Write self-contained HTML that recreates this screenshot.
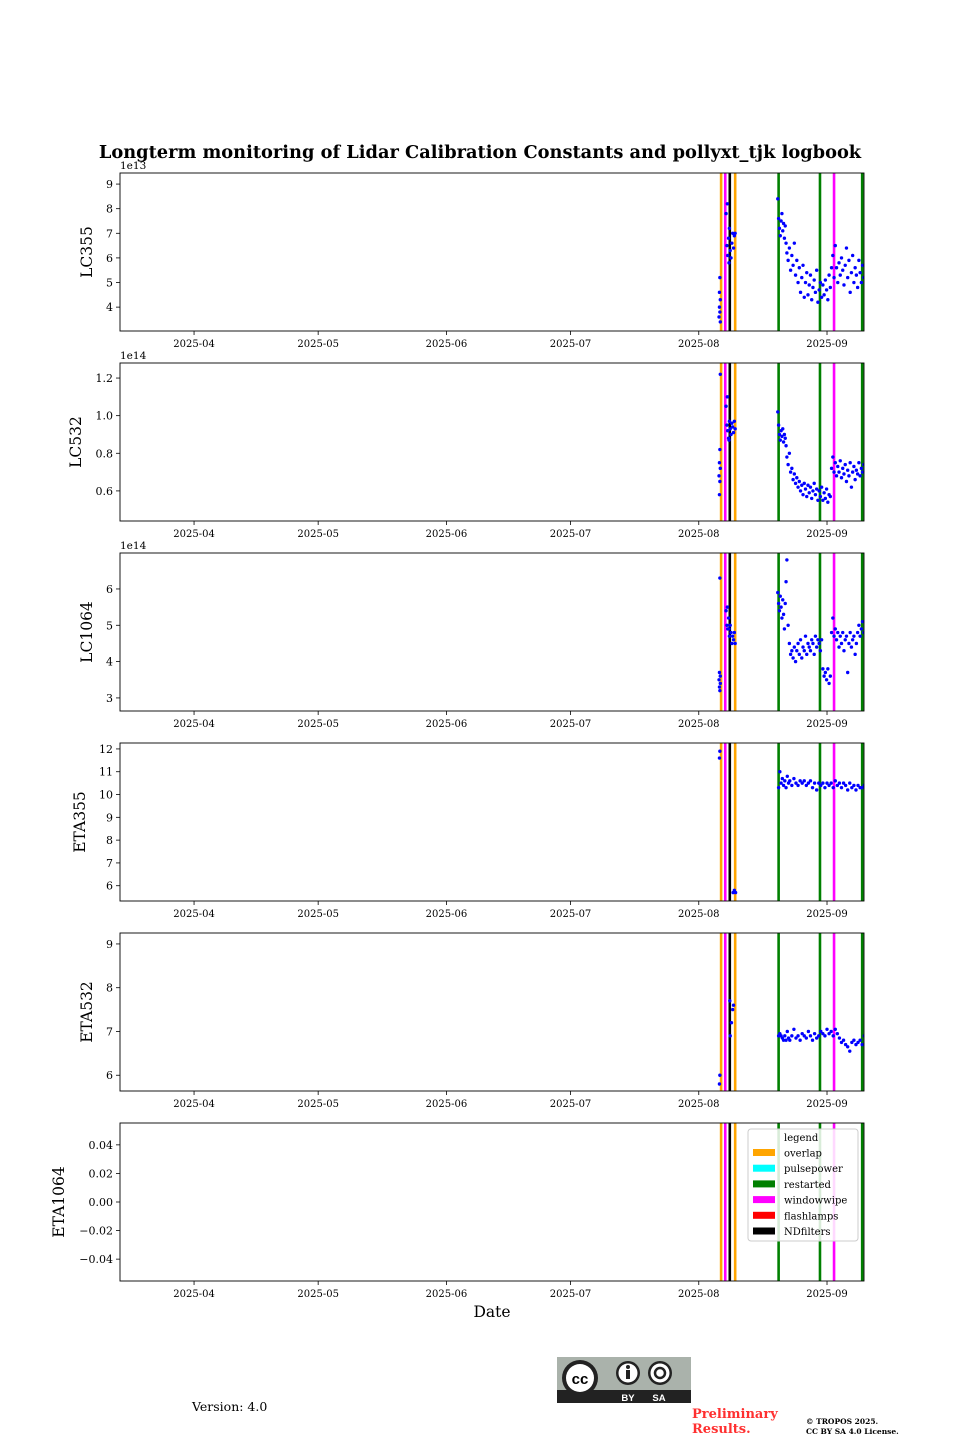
<!DOCTYPE html>
<html><head><meta charset="utf-8"><style>
body{margin:0;background:#fff;}
svg text{font-family:"DejaVu Serif","Liberation Serif",serif;}
</style></head><body>
<svg id="fig" width="960" height="1440" viewBox="0 0 960 1440" xmlns="http://www.w3.org/2000/svg">
<text x="480" y="158" text-anchor="middle" font-size="17.8" font-weight="bold">Longterm monitoring of Lidar Calibration Constants and pollyxt_tjk logbook</text>
<g id="panels"></g>
<text x="492" y="1317" text-anchor="middle" font-size="15.5">Date</text>
<g>
<rect x="557" y="1357" width="134" height="46" fill="#aab2ab"/>
<rect x="557" y="1390" width="134" height="13" fill="#222"/>
<circle cx="580" cy="1378" r="18" fill="#222"/><circle cx="580" cy="1378" r="14" fill="#fff"/>
<text x="580" y="1384" text-anchor="middle" font-size="15" font-weight="bold" style="font-family:'Liberation Sans',sans-serif">cc</text>
<circle cx="628" cy="1373" r="12" fill="#222"/><circle cx="628" cy="1373" r="9.5" fill="#fff"/>
<circle cx="628" cy="1367" r="2" fill="#222"/><rect x="626" y="1370" width="4" height="9" fill="#222"/>
<circle cx="660" cy="1373" r="12" fill="#222"/><circle cx="660" cy="1373" r="9.5" fill="#fff"/>
<circle cx="660" cy="1373" r="5" fill="none" stroke="#222" stroke-width="2.5"/>
<text x="628" y="1401" text-anchor="middle" font-size="9.5" font-weight="bold" fill="#fff" style="font-family:'Liberation Sans',sans-serif">BY</text>
<text x="659" y="1401" text-anchor="middle" font-size="9.5" font-weight="bold" fill="#fff" style="font-family:'Liberation Sans',sans-serif">SA</text>
</g>
<text x="192" y="1411" font-size="12.5">Version: 4.0</text>
<text x="692" y="1418" font-size="13" font-weight="bold" fill="#ff3030">Preliminary</text>
<text x="692" y="1433" font-size="13" font-weight="bold" fill="#ff3030">Results.</text>
<text x="806" y="1424" font-size="7.5" font-weight="bold">© TROPOS 2025.</text>
<text x="806" y="1434" font-size="7.5" font-weight="bold">CC BY SA 4.0 License.</text>
</svg>
<script>
// days relative to 2025-08-01
const monthLabels=["2025-04","2025-05","2025-06","2025-07","2025-08","2025-09"];
const monthDays=[-122,-92,-61,-31,0,31];
const eventNames=["overlap","windowwipe","NDfilters","overlap","restarted","restarted","windowwipe","restarted"];
const eventDays=[5.4,6.4,7.5,8.8,19.3,29.3,32.7,39.5];
const legendNames=["overlap","pulsepower","restarted","windowwipe","flashlamps","NDfilters"];
const legendColors=["orange","cyan","green","magenta","red","black"];

const lcDays=[4.9,5.0,5.0,5.1,5.1,5.2,5.2,
6.6,6.8,7.0,7.2,7.4,7.6,7.8,8.0,8.2,8.4,8.6,8.8,6.9,7.3,
19.1,19.3,19.5,19.7,19.9,20.1,20.3,20.5,20.7,20.9,21.1,21.3,
21.6,21.9,22.2,22.5,22.8,23.1,23.4,23.7,24.0,24.3,24.6,24.9,25.2,25.5,25.8,26.1,26.4,26.7,27.0,27.3,27.6,27.9,28.2,28.5,28.8,29.1,29.4,29.7,30.0,30.3,30.6,30.9,31.2,31.5,31.8,32.1,32.4,32.7,33.0,33.3,33.6,33.9,34.2,34.5,34.8,35.1,35.4,35.7,36.0,36.3,36.6,36.9,37.2,37.5,37.8,38.1,38.4,38.7,39.0,39.3,39.6,39.9];
const lc355=[3.6,4.0,4.6,3.8,5.2,4.3,3.4,
7.8,6.5,6.1,6.8,7.2,6.3,6.0,6.6,7.0,6.4,6.9,7.0,8.2,5.8,
8.4,7.6,7.2,6.9,7.5,7.8,7.1,7.4,6.8,7.3,6.6,6.2,
5.9,6.4,5.5,6.1,5.7,6.6,5.3,5.9,5.0,5.6,4.6,5.2,5.7,4.4,5.0,5.4,4.5,4.9,5.3,4.3,4.8,5.1,4.6,5.5,4.2,4.7,5.0,4.4,4.9,4.5,5.1,4.7,4.3,5.3,4.8,5.6,6.1,5.2,6.5,5.6,5.0,5.8,5.3,6.0,5.5,4.9,5.7,6.4,5.2,5.9,4.6,5.4,6.1,5.0,5.6,5.3,4.8,5.9,5.4,5.0,5.7,5.2];
const lc532=[0.68,0.75,0.58,0.82,0.65,0.72,1.22,
1.05,0.95,0.92,0.88,0.97,0.93,0.90,0.96,0.94,0.91,0.97,0.93,1.10,0.87,
1.02,0.95,0.90,0.87,0.92,0.89,0.93,0.86,0.90,0.88,0.84,0.78,
0.74,0.80,0.70,0.72,0.66,0.69,0.64,0.67,0.62,0.65,0.60,0.63,0.58,0.64,0.61,0.57,0.63,0.59,0.62,0.56,0.60,0.64,0.58,0.61,0.55,0.60,0.57,0.62,0.55,0.59,0.56,0.61,0.54,0.58,0.57,0.72,0.78,0.70,0.75,0.68,0.73,0.70,0.76,0.67,0.72,0.69,0.74,0.65,0.71,0.68,0.75,0.62,0.70,0.73,0.66,0.71,0.69,0.75,0.68,0.72,0.70,0.74];
const lc1064=[3.5,3.3,3.7,3.2,6.3,3.6,3.4,
5.4,5.0,4.9,5.2,4.7,5.0,4.8,4.5,4.7,4.6,4.8,4.5,5.5,4.9,
5.9,5.6,5.4,5.8,5.5,5.2,5.7,5.3,4.9,5.6,6.2,6.8,
5.0,4.5,4.2,4.3,4.1,4.4,4.0,4.3,4.5,4.2,4.6,4.1,4.4,4.3,4.7,4.2,4.5,4.4,4.3,4.6,4.5,4.2,4.7,4.4,4.6,4.5,4.3,4.6,3.8,3.6,3.7,3.5,3.8,3.4,3.6,4.8,5.2,4.7,4.9,4.6,4.8,4.4,4.7,4.5,4.8,4.3,4.6,4.7,3.7,4.5,4.8,4.4,4.6,4.7,4.2,4.5,4.8,5.0,4.7,4.9,5.1,4.8];

const eta355Days=[5.0,5.1,8.3,8.6,8.9,19.3,19.6,19.9,20.2,20.5,20.8,21.1,21.4,21.7,22.0,22.5,23.0,23.5,24.0,24.5,25.0,25.5,26.0,26.5,27.0,27.5,28.0,28.5,29.0,29.5,30.0,30.5,31.0,31.5,32.0,32.5,33.0,33.5,34.0,34.5,35.0,35.5,36.0,36.5,37.0,37.5,38.0,38.5,39.0,39.5,40.0];
const eta355=[11.6,11.9,5.7,5.8,5.7,10.3,11.0,10.5,10.7,10.4,10.6,10.3,10.8,10.5,10.6,10.4,10.7,10.5,10.4,10.6,10.5,10.6,10.4,10.5,10.6,10.3,10.5,10.2,10.5,10.4,10.5,10.3,10.5,10.4,10.5,10.3,10.6,10.4,10.5,10.3,10.5,10.4,10.2,10.5,10.3,10.4,10.2,10.4,10.3,10.3,10.4];
const eta532Days=[5.0,5.1,7.5,7.6,7.9,8.2,8.4,19.3,19.6,19.9,20.2,20.5,20.8,21.1,21.4,21.7,22.0,22.5,23.0,23.5,24.0,24.5,25.0,25.5,26.0,26.5,27.0,27.5,28.0,28.5,29.0,29.5,30.0,30.5,31.0,31.5,32.0,32.5,33.0,33.5,34.0,34.5,35.0,35.5,36.0,36.5,37.0,37.5,38.0,38.5,39.0,39.5,40.0];
const eta532=[5.8,6.0,7.7,6.9,7.2,7.5,7.6,6.9,6.95,6.9,6.85,6.8,6.9,6.8,7.0,6.85,6.8,6.9,7.05,6.85,6.9,6.8,6.95,6.9,6.85,7.0,6.9,6.8,6.95,6.85,6.9,7.0,6.95,6.9,7.05,6.95,7.0,6.9,7.05,6.95,6.85,6.75,6.8,6.7,6.65,6.55,6.75,6.8,6.7,6.75,6.8,6.7,6.9];

const panelNames=["LC355","LC532","LC1064","ETA355","ETA532","ETA1064"];
const panelTops=[173,363,553,743,933,1123];
const yMins=[3.03,0.44,2.64,5.33,5.64,-0.0553];
const yMaxs=[9.45,1.28,6.99,12.26,9.25,0.0553];
const yTicks=[[4,5,6,7,8,9],[0.6,0.8,1.0,1.2],[3,4,5,6],[6,7,8,9,10,11,12],[6,7,8,9],[-0.04,-0.02,0,0.02,0.04]];
const yTickLabels=[["4","5","6","7","8","9"],["0.6","0.8","1.0","1.2"],["3","4","5","6"],["6","7","8","9","10","11","12"],["6","7","8","9"],["−0.04","−0.02","0.00","0.02","0.04"]];
const offsets=["1e13","1e14","1e14","","",""];
const seriesDays=[lcDays,lcDays,lcDays,eta355Days,eta532Days,[]];
const seriesVals=[lc355,lc532,lc1064,eta355,eta532,[]];
const labelX=[92,81,92,85,92,64];

const L=120,R=864,H=158,D0=-139.9,D1=39.94;
const NS="http://www.w3.org/2000/svg";
const root=document.getElementById('panels');
function xs(d){return L+(d-D0)/(D1-D0)*(R-L);}
function mk(tag,attrs,parent){const e=document.createElementNS(NS,tag);for(const k in attrs)e.setAttribute(k,attrs[k]);parent.appendChild(e);return e;}
const evColor={overlap:"orange",windowwipe:"magenta",NDfilters:"black",restarted:"green"};

panelNames.forEach((name,p)=>{
  const top=panelTops[p],bot=top+H;
  const ys=v=>bot-(v-yMins[p])/(yMaxs[p]-yMins[p])*H;
  const g=mk('g',{},root);
  
  
  const clip=mk('clipPath',{id:'c'+p},g);mk('rect',{x:L,y:top,width:R-L,height:H},clip);
  const plot=mk('g',{'clip-path':'url(#c'+p+')'},g);
  eventDays.forEach((d,i)=>{
    const ln=mk('line',{x1:xs(d),x2:xs(d),y1:top,y2:bot,stroke:evColor[eventNames[i]],'stroke-width':2.6},plot);
    
    
  });
  const dd=seriesDays[p],vv=seriesVals[p];
  for(let i=0;i<Math.min(dd.length,vv.length);i++){
    const c=mk('circle',{cx:xs(dd[i]),cy:ys(vv[i]),r:1.7,fill:'#0000ff'},plot);
    
    
  }
  const fr=mk('rect',{x:L,y:top,width:R-L,height:H,fill:'none',stroke:'#000','stroke-width':0.9},g);
  
  
  yTicks[p].forEach((v,i)=>{
    const y=ys(v);
    mk('line',{x1:L-4,x2:L,y1:y,y2:y,stroke:'#000','stroke-width':0.8},g);
    const t=mk('text',{x:L-7,y:y+4,'text-anchor':'end','font-size':11},g);
    
    
    t.textContent=yTickLabels[p][i];
  });
  monthDays.forEach((d,i)=>{
    const x=xs(d);
    mk('line',{x1:x,x2:x,y1:bot,y2:bot+4,stroke:'#000','stroke-width':0.8},g);
    const t=mk('text',{x:x,y:bot+16,'text-anchor':'middle','font-size':10},g);
    
    
    t.textContent=monthLabels[i];
  });
  if(offsets[p]){
    const t=mk('text',{x:L,y:top-4,'font-size':10.5},g);
    
    
    t.textContent=offsets[p];
  }
  const yl=mk('text',{x:labelX[p],y:top+H/2,'text-anchor':'middle','font-size':15.5,transform:'rotate(-90 '+labelX[p]+' '+(top+H/2)+')'},g);
  
  
  yl.textContent=name;
});

// legend in last panel
const lg=mk('g',{},root);


mk('rect',{x:748,y:1129,width:110,height:112,rx:3,fill:'#fff','fill-opacity':0.85,stroke:'#ccc'},lg);
const lt=mk('text',{x:784,y:1141,'font-size':10},lg);lt.textContent='legend';
legendNames.forEach((n,i)=>{
  const y=1153+i*15.7;
  const e=mk('g',{},lg);
  
  
  mk('rect',{x:753,y:y-4,width:22,height:7,fill:legendColors[i]},e);
  const t=mk('text',{x:784,y:y+3.5,'font-size':10},e);t.textContent=n;
});
</script>
</body></html>
